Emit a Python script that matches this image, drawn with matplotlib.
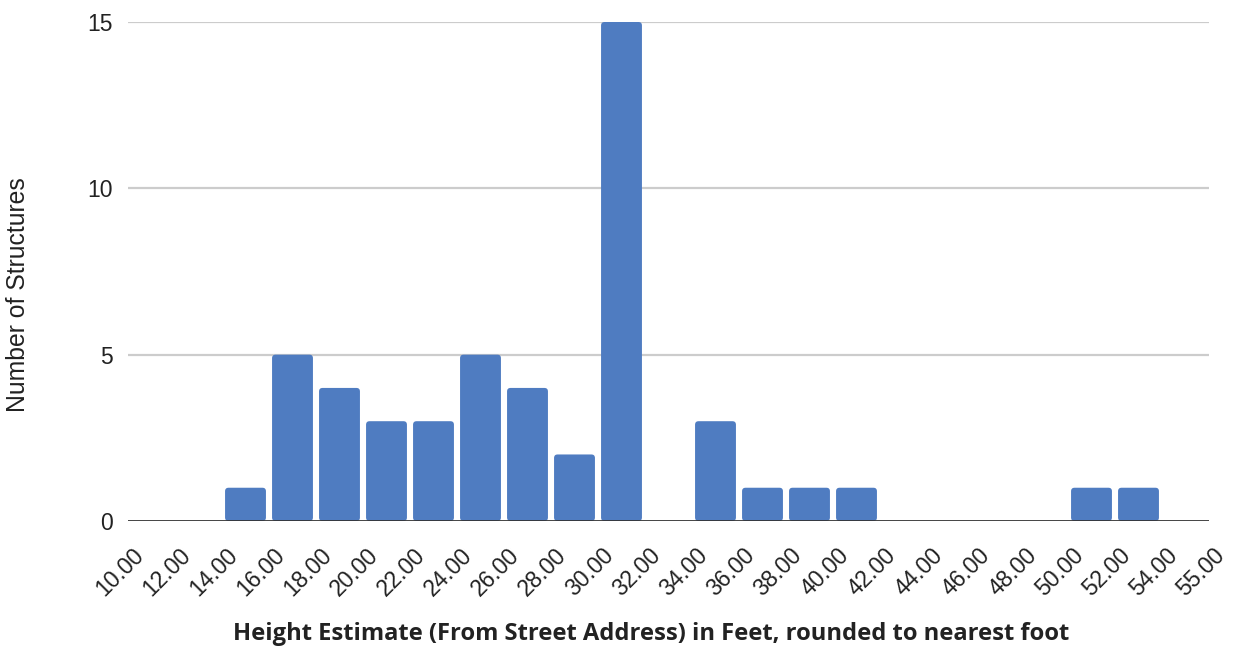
import matplotlib
matplotlib.use("Agg")
import matplotlib.pyplot as plt
from matplotlib.patches import FancyBboxPatch
from matplotlib.transforms import ScaledTranslation

# Bin edges (feet) and structure counts per bin
bin_labels = ["10.00", "12.00", "14.00", "16.00", "18.00", "20.00", "22.00", "24.00",
              "26.00", "28.00", "30.00", "32.00", "34.00", "36.00", "38.00", "40.00",
              "42.00", "44.00", "46.00", "48.00", "50.00", "52.00", "54.00", "55.00"]
counts = [0, 0, 1, 5, 4, 3, 3, 5, 4, 2, 15, 0, 3, 1, 1, 1, 0, 0, 0, 0, 1, 1, 0]
y_ticks = [0, 5, 10, 15]

bar_color = "#4f7cc1"
W, H, DPI = 1233, 649, 100

fig = plt.figure(figsize=(W / DPI, H / DPI), dpi=DPI)
left, right, top, bottom = 128, 1209, 22, 521
ax = fig.add_axes([left / W, 1 - bottom / H, (right - left) / W, (bottom - top) / H])

n = len(counts)
ax.set_xlim(0, n)
ax.set_ylim(0, 15)

# aspect between data units per pixel in y and x, for evenly rounded corners
x_per_px = n / (right - left)
y_per_px = 15 / (bottom - top)
aspect = y_per_px / x_per_px
bar_w = 0.87
for i, c in enumerate(counts):
    if c <= 0:
        continue
    x0 = i + (1 - bar_w) / 2
    p = FancyBboxPatch((x0, 0), bar_w, c,
                       boxstyle="round,pad=0,rounding_size=%f" % (3.5 * x_per_px),
                       mutation_aspect=aspect, facecolor=bar_color,
                       edgecolor="none", zorder=2, clip_on=False)
    ax.add_patch(p)

# grid and baseline
for yv in y_ticks[1:]:
    ax.axhline(yv, color="#cccccc", lw=1.6, zorder=1)
ax.axhline(0, color="#333333", lw=2.0, zorder=3)

for s in ax.spines.values():
    s.set_visible(False)

font = "Liberation Sans"
ax.set_yticks(y_ticks)
ax.set_yticklabels([str(v) for v in y_ticks], fontsize=16.5, family=font, color="#222222")
ax.tick_params(axis="y", length=0, pad=11)

ax.set_xticks(range(len(bin_labels)))
ax.set_xticklabels(bin_labels, fontsize=16.5, family=font, color="#222222",
                   rotation=45, ha="right", va="center", rotation_mode="anchor")
ax.tick_params(axis="x", length=0, pad=22)
offset = ScaledTranslation(12 / DPI, 0, fig.dpi_scale_trans)
for lbl in ax.get_xticklabels():
    lbl.set_transform(lbl.get_transform() + offset)

fig.text(18 / W, 1 - 295 / H, "Number of Structures", rotation=90, ha="center",
         va="center", fontsize=17.8, family=font, color="#222222")
fig.text(651 / W, 1 - 634 / H,
         "Height Estimate (From Street Address) in Feet, rounded to nearest foot",
         ha="center", va="center", fontsize=17.1, fontweight="bold", family="Open Sans",
         color="#222222")

fig.savefig("out.png", dpi=DPI)
